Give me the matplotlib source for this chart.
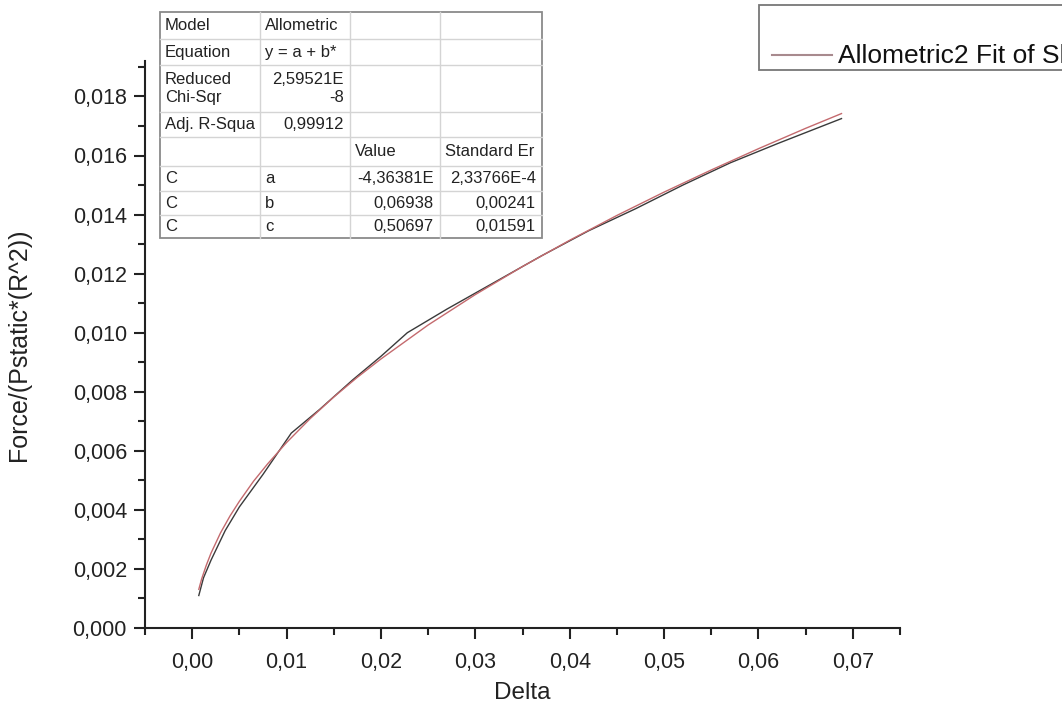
import matplotlib
matplotlib.use("Agg")
import matplotlib.pyplot as plt
from matplotlib.ticker import MultipleLocator, FuncFormatter
from matplotlib.patches import Rectangle

plt.rcParams['font.family'] = ['Liberation Sans', 'DejaVu Sans']

# measured data (black, piecewise linear)
data_x = [0.0007, 0.0012, 0.002, 0.0035, 0.005, 0.0075, 0.0105, 0.0135, 0.017, 0.020,
          0.0228, 0.027, 0.032, 0.037, 0.042, 0.047, 0.052, 0.057, 0.062, 0.066, 0.0688]
data_y = [0.0011, 0.0017, 0.0023, 0.0033, 0.0041, 0.0052, 0.0066, 0.0074, 0.0084, 0.0092,
          0.0100, 0.0108, 0.0117, 0.0126, 0.01345, 0.0142, 0.0150, 0.01575, 0.0164, 0.0169, 0.01725]

# fit curve (red)
fit_x = [0.0007, 0.001, 0.0015, 0.002, 0.003, 0.004, 0.005, 0.0065, 0.008, 0.010, 0.0125,
         0.015, 0.0175, 0.020, 0.025, 0.030, 0.035, 0.040, 0.045, 0.050, 0.055, 0.060,
         0.065, 0.0688]
fit_y = [0.00131, 0.00166, 0.00213, 0.00254, 0.00322, 0.00379, 0.00429, 0.00497, 0.00556,
         0.00628, 0.00709, 0.00782, 0.00849, 0.00911, 0.01026, 0.01129, 0.01224, 0.01313,
         0.01397, 0.01476, 0.01551, 0.01623, 0.01692, 0.01742]

table_rows = [
    ["Model", "Allometric", "", ""],
    ["Equation", "y = a + b*", "", ""],
    ["Reduced\nChi-Sqr", "2,59521E\n-8", "", ""],
    ["Adj. R-Squa", "0,99912", "", ""],
    ["", "", "Value", "Standard Er"],
    ["C", "a", "-4,36381E", "2,33766E-4"],
    ["C", "b", "0,06938", "0,00241"],
    ["C", "c", "0,50697", "0,01591"],
]
legend_label = "Allometric2 Fit of Sheet1 F"

fig = plt.figure(figsize=(10.62, 7.08), dpi=100)
ax = fig.add_axes([145 / 1062, 80 / 708, 755 / 1062, 567 / 708])

ax.plot(data_x, data_y, color='#3a3a3a', lw=1.0)
ax.plot(fit_x, fit_y, color='#c46a6e', lw=1.0)

ax.set_xlim(-0.005, 0.075)
ax.set_ylim(0, 0.0192)
for s in ['top', 'right']:
    ax.spines[s].set_visible(False)
for s in ['left', 'bottom']:
    ax.spines[s].set_linewidth(1.5)
    ax.spines[s].set_color('#222222')

ax.xaxis.set_major_locator(MultipleLocator(0.01))
ax.xaxis.set_minor_locator(MultipleLocator(0.005))
ax.yaxis.set_major_locator(MultipleLocator(0.002))
ax.yaxis.set_minor_locator(MultipleLocator(0.001))
ax.xaxis.set_major_formatter(FuncFormatter(lambda v, p: ("%.2f" % v).replace('.', ',') if v >= -1e-9 else ""))
ax.yaxis.set_major_formatter(FuncFormatter(lambda v, p: ("%.3f" % v).replace('.', ',')))
ax.tick_params(which='major', length=8, width=1.5, labelsize=15.5, colors='#222222')
ax.tick_params(axis='x', which='major', pad=9)
ax.tick_params(axis='y', which='major', pad=5)
ax.tick_params(which='minor', length=5, width=1.5, colors='#222222')

ax.set_xlabel("Delta", fontsize=17.5, color='#222222', labelpad=7)
ax.set_ylabel("Force/(Pstatic*(R^2))", fontsize=18, color='#222222', labelpad=30)

# overlay in pixel coordinates for the fit table and the legend box
ov = fig.add_axes([0, 0, 1, 1], zorder=5)
ov.set_xlim(0, 1062)
ov.set_ylim(708, 0)
ov.axis('off')
ov.patch.set_alpha(0)

col_edges = [160, 260, 350, 440, 542]
row_edges = [12, 39, 65, 112, 137, 166, 191, 215, 238]
ov.add_patch(Rectangle((col_edges[0], row_edges[0]), col_edges[-1] - col_edges[0],
                       row_edges[-1] - row_edges[0], facecolor='white', edgecolor='#8a8a8a', lw=1.3))
for xe in col_edges[1:-1]:
    ov.plot([xe, xe], [row_edges[0], row_edges[-1]], color='#d4d4d4', lw=1)
for ye in row_edges[1:-1]:
    ov.plot([col_edges[0], col_edges[-1]], [ye, ye], color='#d4d4d4', lw=1)

for r, row in enumerate(table_rows):
    yc = (row_edges[r] + row_edges[r + 1]) / 2
    for c, txt in enumerate(row):
        if not txt:
            continue
        numeric = txt[0].isdigit() or txt[0] == '-'
        if numeric:
            ov.text(col_edges[c + 1] - 6, yc, txt, ha='right', va='center', fontsize=12,
                    color='#222222', linespacing=1.3)
        else:
            ov.text(col_edges[c] + 5, yc, txt, ha='left', va='center', fontsize=12,
                    color='#222222', linespacing=1.3)

# legend box (runs off the right edge like the original)
ov.add_patch(Rectangle((759, 5), 400, 65, facecolor='white', edgecolor='#777777', lw=1.3))
ov.plot([772, 832], [55, 55], color='#a88a8e', lw=1.5)
ov.text(838, 56, legend_label, ha='left', va='center', fontsize=19, color='#111111')

fig.savefig("out.png", dpi=100)
